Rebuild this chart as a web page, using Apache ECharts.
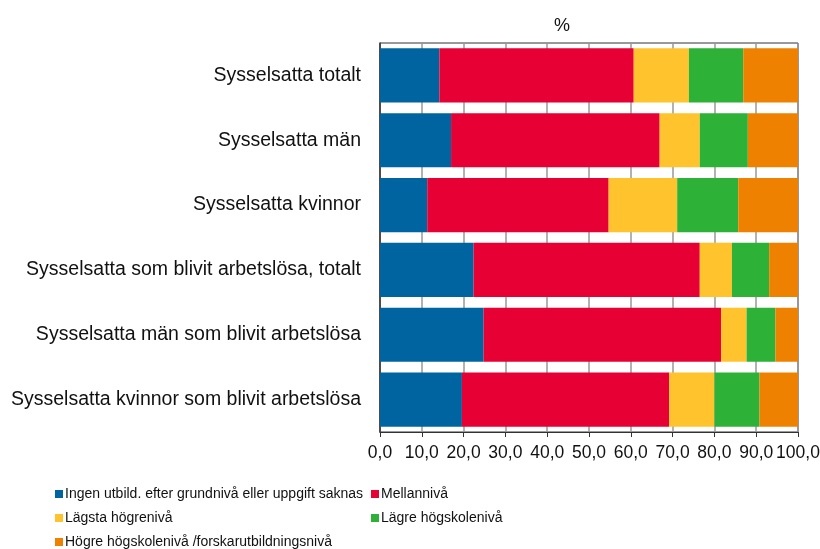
<!DOCTYPE html>
<html>
<head>
<meta charset="utf-8">
<script src="https://cdn.jsdelivr.net/npm/echarts@6/dist/echarts.min.js"></script>
<style>
  html, body { margin: 0; padding: 0; background: #fff; }
  #main { width: 820px; height: 549px; }
</style>
</head>
<body>
<div id="main"></div>
<script>
    // kategorier, uppifrån och ned
    var categories = [
        'Sysselsatta totalt',
        'Sysselsatta män',
        'Sysselsatta kvinnor',
        'Sysselsatta som blivit arbetslösa, totalt',
        'Sysselsatta män som blivit arbetslösa',
        'Sysselsatta kvinnor som blivit arbetslösa'
    ];
    var seriesNames = [
        'Ingen utbild. efter grundnivå eller uppgift saknas',
        'Mellannivå',
        'Lägsta högrenivå',
        'Lägre högskolenivå',
        'Högre högskolenivå /forskarutbildningsnivå'
    ];
    var ingen    = [14.2, 17.0, 11.3, 22.4, 24.8, 19.6];
    var mellan   = [46.5, 49.9, 43.4, 54.1, 56.8, 49.6];
    var lagsta   = [13.2, 9.6, 16.4, 7.7, 6.1, 10.8];
    var lagre    = [13.0, 11.5, 14.6, 8.9, 6.9, 10.8];
    var hogre    = [13.1, 12.0, 14.3, 6.9, 5.4, 9.2];
    var xTicks = [0, 10, 20, 30, 40, 50, 60, 70, 80, 90, 100];

    var colors = ['#0064a0', '#e60033', '#ffc32d', '#2db136', '#ee8200'];
    var values = [ingen, mellan, lagsta, lagre, hogre];
    var font = 'Liberation Sans, Arial, sans-serif';

    // legend-positioner (två kolumner)
    var legendPos = [[55, 487], [371, 487], [55, 511], [371, 511], [55, 535]];

    var myChart = echarts.init(document.getElementById('main'));

    var series = [];
    var legends = [];
    for (var i = 0; i < seriesNames.length; i++) {
        series.push({
            name: seriesNames[i],
            type: 'bar',
            stack: 'total',
            barCategoryGap: '16.5%',
            itemStyle: { color: colors[i] },
            data: values[i]
        });
        legends.push({
            data: [seriesNames[i]],
            left: legendPos[i][0],
            top: legendPos[i][1],
            padding: 0,
            icon: 'rect',
            itemWidth: 8,
            itemHeight: 8,
            selectedMode: false,
            textStyle: {
                fontFamily: font,
                fontSize: 14,
                color: '#111',
                padding: [0, 0, 0, -3]
            }
        });
    }

    var option = {
        animation: false,
        title: {
            text: '%',
            left: 549,
            top: 12,
            textStyle: { fontFamily: font, fontSize: 18, fontWeight: 'normal', color: '#111' }
        },
        legend: legends,
        grid: {
            left: 380,
            right: 22,
            top: 43,
            bottom: 117,
            outerBoundsMode: 'none',
            show: true,
            borderColor: '#333',
            borderWidth: 1
        },
        xAxis: {
            type: 'value',
            min: xTicks[0],
            max: xTicks[xTicks.length - 1],
            interval: 10,
            axisLine: { show: true, lineStyle: { color: '#333' } },
            axisTick: { show: true, length: 5, lineStyle: { color: '#333' } },
            splitLine: { show: true, lineStyle: { color: '#999', width: 1.5 } },
            axisLabel: {
                fontFamily: font,
                fontSize: 17.5,
                color: '#111',
                margin: 12,
                formatter: function (v) { return v.toFixed(1).replace('.', ','); }
            }
        },
        yAxis: {
            type: 'category',
            inverse: true,
            data: categories,
            axisLine: { show: true, lineStyle: { color: '#333', width: 1.5 } },
            axisTick: { show: false },
            axisLabel: {
                fontFamily: font,
                fontSize: 19.5,
                color: '#111',
                margin: 19
            }
        },
        series: series
    };

    myChart.setOption(option);
</script>
</body>
</html>
